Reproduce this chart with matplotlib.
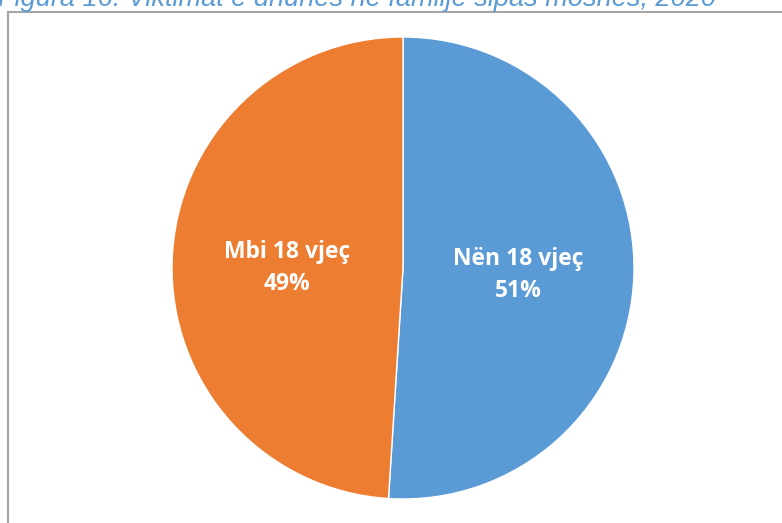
import matplotlib.pyplot as plt
from matplotlib.patches import Rectangle

# Data
labels = ["Nën 18 vjeç", "Mbi 18 vjeç"]
shares = [51, 49]
colors = ["#5B9BD5", "#ED7D31"]
title = "Figura 16: Viktimat e dhunës në familje sipas moshës, 2020"

W, H = 782, 523
fig = plt.figure(figsize=(W / 100, H / 100), dpi=100)

# chart frame (right/bottom edges run off the picture)
fig.patches.append(Rectangle((8 / W, -0.1), 1.2, (H - 12) / H + 0.1,
                             transform=fig.transFigure, fill=False,
                             edgecolor="#A6A6A6", linewidth=1.5))

# title, mostly cut off by the top edge
fig.text(-2 / W, 1 - 6 / H, title, ha="left", va="baseline", fontsize=19.5,
         style="italic", color="#5B9BD5", family="Liberation Sans")

# pie axes: centre (403, 268) px, radius 231 px
cx, cy, r = 403, 268, 231
ax = fig.add_axes([(cx - r) / W, (H - cy - r) / H, 2 * r / W, 2 * r / H])
wedges, texts = ax.pie(shares, colors=colors, startangle=90, counterclock=False,
                       radius=1, wedgeprops=dict(edgecolor="white", linewidth=1))
ax.set_xlim(-1, 1)
ax.set_ylim(-1, 1)
ax.set_axis_off()

label_pos = [(0.50, -0.03), (-0.50, 0.0)]
for lab, val, (x, y) in zip(labels, shares, label_pos):
    ax.text(x, y, f"{lab}\n{val}%", ha="center", va="center", color="white",
            fontsize=16.5, fontweight="bold", family="Open Sans", linespacing=1.45)

fig.savefig("out.png", dpi=100)
